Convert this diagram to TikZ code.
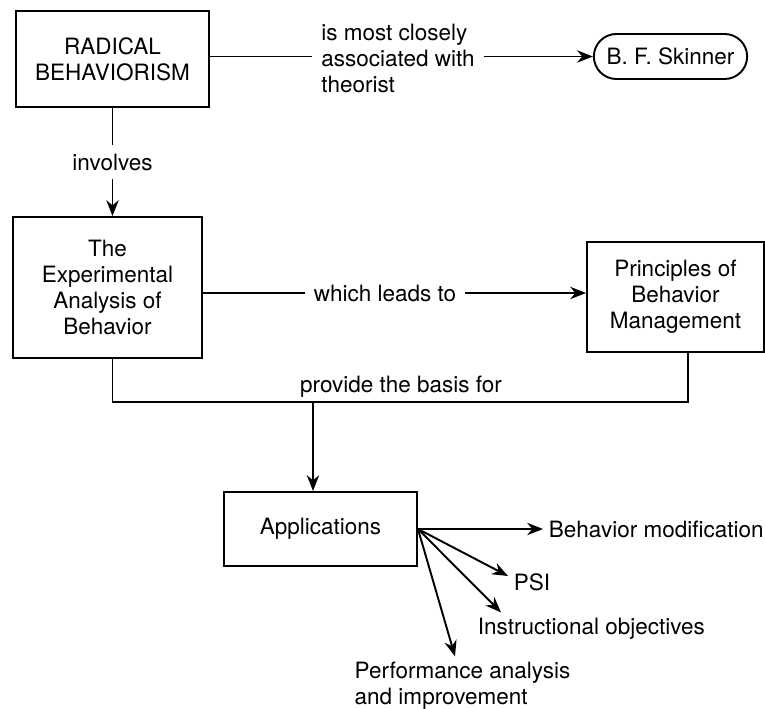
\documentclass[tikz,border=0pt]{standalone}
\usepackage{fontspec}
\setmainfont{TeX Gyre Heros}
\usetikzlibrary{arrows.meta,positioning,calc,shapes.misc}

\begin{document}
\begin{tikzpicture}[scale=1.0,line width=1.1pt,
  every node/.style={font=\fontsize{12.8}{14.8}\selectfont},
  box/.style={draw,align=center,inner sep=2pt},
  lbl/.style={inner sep=4.5pt,align=center},
  leaf/.style={inner sep=0.1cm,anchor=west},
  arr/.style={-{Stealth[length=9pt,width=7pt]}}]
\useasboundingbox (0,0) rectangle (15.3,14.16);
% top row
\node[box,minimum width=3.86cm,minimum height=1.92cm] (RB) at (2.25,12.98) {RADICAL\\BEHAVIORISM};
\node[draw,rounded rectangle,minimum width=3.3cm,minimum height=0.9cm] (SK) at (13.41,13.03) {B. F. Skinner};
\node[lbl,align=left] (assoc) at (7.96,13.0) {is most closely\\associated with\\theorist};
\draw (RB.east |- SK.west) -- (assoc.west |- SK.west);
\draw[arr] (assoc.east |- SK.west) -- (SK.west);
% middle row
\node[lbl] (inv) at (2.25,10.92) {involves};
\node[box,minimum width=3.78cm,minimum height=2.82cm] (TEA) at (2.15,8.41) {The\\Experimental\\Analysis of\\Behavior};
\node[lbl] (lead) at (7.7,8.3) {which leads to};
\node[box,minimum width=3.54cm,minimum height=2.2cm] (PBM) at (13.51,8.22) {Principles of\\Behavior\\Management};
\draw (RB.south) -- (inv.north);
\draw[arr] (inv.south) -- (inv.south |- TEA.north);
\draw (TEA.east |- lead.west) -- (lead.west);
\draw[arr] (lead.east) -- (lead.east -| PBM.west);
% bus to applications
\coordinate (bl) at (2.25,6.12);
\coordinate (br) at (13.76,6.12);
\coordinate (bm) at (6.26,6.12);
\draw (TEA.south -| bl) -- (bl) -- (br) -- (br |- PBM.south);
\node (basis) at (8.02,6.42) {provide the basis for};
\node[box,minimum width=3.86cm,minimum height=1.48cm] (APP) at (6.41,3.58) {Applications};
\draw[arr] (bm) -- (bm |- APP.north);
% fan of applications
\node[leaf] (BM) at (10.86,3.58) {Behavior modification};
\node[leaf] (PSI) at (10.16,2.52) {PSI};
\node[leaf] (IO) at (9.44,1.58) {Instructional objectives};
\node[leaf,anchor=center,align=left] (PA) at (9.25,0.44) {Performance analysis\\and improvement};
\draw[arr] (APP.east) -- (BM.west);
\draw[arr] (APP.east) -- ([yshift=0.12cm]PSI.west);
\draw[arr] (APP.east) -- ([xshift=0.58cm]IO.north west);
\draw[arr] (APP.east) -- ([xshift=-0.15cm]PA.north);
\end{tikzpicture}
\end{document}
